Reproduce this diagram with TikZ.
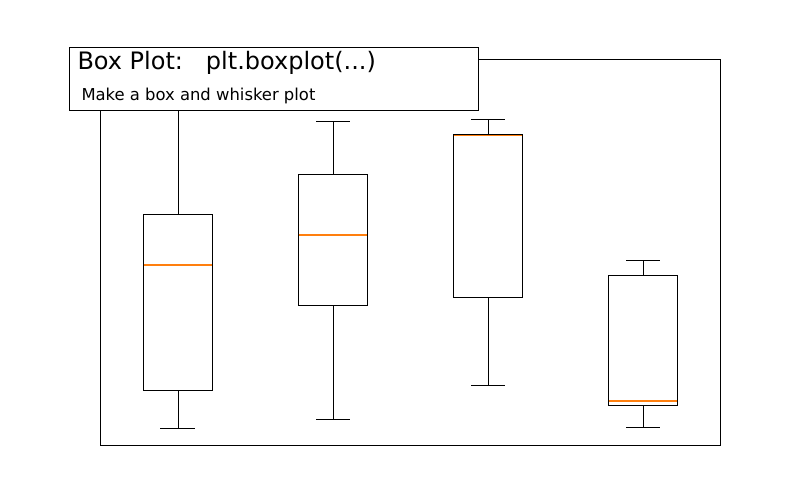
\documentclass[tikz,border=0pt]{standalone}
\usepackage{fontspec}
\setmainfont{DejaVu Sans}
\definecolor{med}{HTML}{FF7F0E}
\begin{document}
\begin{tikzpicture}[x=1pt,y=-1pt,line width=1pt,
  md/.style={draw=med,line width=1.3pt}]
\useasboundingbox (0,0) rectangle (800,500);
\draw (100,60) rectangle (720,445);
% box 1
\draw (178,95) -- (178,214) (178,390) -- (178,428) (160,428) -- (195,428);
\draw (143,214) rectangle (212,390);
\draw[md] (143.5,265) -- (211.5,265);
% box 2
\draw (333,122) -- (333,174) (333,305) -- (333,419) (316,122) -- (350,122) (316,419) -- (350,419);
\draw (298,174) rectangle (367,305);
\draw[md] (298.5,235) -- (366.5,235);
% box 3
\draw (488,120) -- (488,135) (488,297) -- (488,385) (471,120) -- (505,120) (471,385) -- (505,385);
\draw (453,135) rectangle (522,297);
\draw[md] (453.5,135.8) -- (521.5,135.8);
% box 4
\draw (643,260) -- (643,275) (643,405) -- (643,427) (626,260) -- (660,260) (626,427) -- (660,427);
\draw (608,275) rectangle (677,405);
\draw[md] (608.5,401) -- (676.5,401);
% title
\node[draw,fill=white,minimum width=409,minimum height=63,anchor=north west,inner sep=0] (tb) at (69,47) {};
\node[anchor=west,inner sep=0,font=\fontsize{24}{28}\selectfont] (t1) at (77,63) {Box Plot:\ \ \ plt.boxplot(...)};
\node[anchor=west,inner sep=0,font=\fontsize{16.4}{19}\selectfont] (t2) at (81,96) {Make a box and whisker plot};
\end{tikzpicture}
\end{document}
